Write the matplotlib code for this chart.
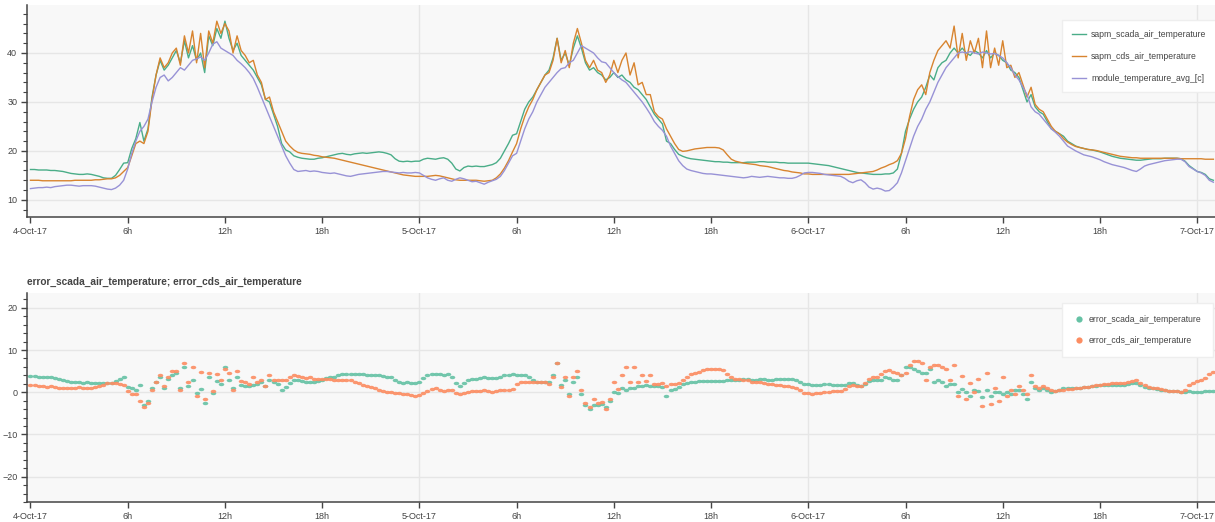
import matplotlib
matplotlib.use('agg')
import matplotlib.pyplot as plt
import matplotlib.dates as mdates
from matplotlib.ticker import MultipleLocator, FuncFormatter
from matplotlib.lines import Line2D
import numpy as np
import pandas as pd

plt.rcParams['font.family'] = ['Liberation Sans', 'DejaVu Sans']

# 15 minute samples starting 4-Oct-17 00:00, one row = 6 hours
module_temperature = [
    12.3, 12.4, 12.5, 12.5, 12.6, 12.5, 12.7, 12.8, 12.9, 13.0, 13.0, 12.9, 12.8, 12.9, 12.9, 12.9, 12.8, 12.6, 12.4, 12.2, 12.1, 12.4, 13.0, 14.0,
    16.3, 19.5, 22.0, 24.0, 25.0, 26.5, 30.0, 33.0, 35.0, 35.5, 34.3, 35.0, 36.0, 37.0, 36.5, 37.5, 38.5, 38.8, 39.2, 38.5, 40.0, 41.8, 42.3, 41.0,
    40.5, 40.0, 39.5, 38.5, 37.8, 37.0, 36.0, 34.8, 33.0, 31.0, 29.0, 27.0, 25.0, 23.0, 21.0, 19.0, 17.5, 16.2, 15.8, 15.9, 16.0, 15.8, 15.9, 15.8,
    15.6, 15.5, 15.4, 15.5, 15.3, 15.1, 14.9, 14.8, 15.0, 15.2, 15.3, 15.4, 15.5, 15.6, 15.7, 15.8, 15.8, 15.7, 15.6, 15.5, 15.6, 15.5, 15.5, 15.6,
    15.5, 15.0, 14.5, 14.2, 14.0, 14.3, 14.5, 14.0, 13.8, 14.2, 14.5, 14.3, 14.0, 13.7, 13.8, 13.5, 13.2, 13.6, 13.9, 14.2, 14.8, 16.0, 17.5, 19.0,
    19.5, 22.0, 24.5, 26.5, 28.0, 30.0, 31.5, 33.0, 34.0, 35.0, 36.0, 36.8, 37.0, 38.0, 38.5, 40.0, 41.5, 41.0, 40.5, 40.0, 39.0, 38.2, 38.0, 37.0,
    36.0, 35.2, 34.5, 34.0, 33.0, 32.0, 31.0, 30.0, 28.8, 27.5, 26.0, 25.0, 24.2, 23.0, 21.0, 19.5, 18.0, 17.0, 16.3, 16.0, 15.8, 15.6, 15.4, 15.3,
    15.3, 15.2, 15.1, 15.0, 14.9, 14.8, 14.7, 14.6, 14.5, 14.6, 14.8, 14.7, 14.6, 14.7, 14.8, 14.7, 14.6, 14.5, 14.5, 14.4, 14.4, 14.6, 15.0, 15.5,
    15.6, 15.6, 15.5, 15.4, 15.2, 15.1, 15.0, 14.9, 14.8, 14.4, 13.8, 13.5, 13.9, 14.1, 13.5, 12.6, 12.2, 12.4, 12.2, 11.8, 11.9, 12.6, 13.5, 15.5,
    18.0, 20.5, 23.0, 25.0, 26.5, 28.5, 30.0, 32.0, 34.0, 35.5, 37.0, 38.0, 39.0, 40.0, 40.2, 40.0, 40.3, 40.0, 39.8, 40.2, 40.0, 39.8, 39.9, 39.5,
    39.0, 38.0, 37.0, 35.5, 34.5, 33.0, 31.5, 29.0, 28.0, 27.5, 26.5, 25.5, 24.5, 23.8, 23.0, 22.0, 21.0, 20.5, 20.0, 19.6, 19.2, 19.0, 18.8, 18.5,
    18.2, 17.8, 17.5, 17.2, 17.0, 16.8, 16.6, 16.3, 16.0, 15.8, 16.3, 16.9, 17.2, 17.4, 17.6, 17.8, 18.0, 18.1, 18.2, 18.3, 18.3, 17.8, 16.8, 16.3,
    15.8, 15.5, 15.0, 14.0, 13.6,
]

scada_air_temperature = [
    16.2, 16.2, 16.1, 16.1, 16.1, 16.0, 16.0, 15.9, 15.8, 15.6, 15.4, 15.3, 15.2, 15.2, 15.3, 15.2, 15.0, 14.8, 14.5, 14.4, 14.4, 15.0, 16.2, 17.5,
    17.6, 20.5, 22.5, 25.8, 22.0, 24.5, 31.0, 35.5, 38.5, 36.5, 37.5, 39.0, 40.5, 38.0, 42.5, 39.0, 41.5, 38.5, 40.0, 36.0, 43.5, 41.5, 45.0, 43.0,
    46.5, 43.0, 40.5, 42.0, 39.5, 38.5, 37.5, 36.5, 35.0, 33.5, 30.5, 30.0, 27.5, 25.0, 21.5, 20.2, 19.8, 19.0, 18.7, 18.5, 18.4, 18.3, 18.3, 18.5,
    18.6, 18.8, 19.0, 19.2, 19.4, 19.5, 19.3, 19.2, 19.4, 19.5, 19.6, 19.5, 19.6, 19.7, 19.8, 19.7, 19.5, 19.2, 18.4, 17.9, 17.8, 17.9, 17.8, 17.9,
    17.9, 18.3, 18.5, 18.4, 18.3, 18.5, 18.6, 18.3, 17.5, 16.3, 15.9, 16.6, 16.9, 16.8, 16.9, 16.8, 16.8, 17.0, 17.2, 17.6, 18.5, 20.0, 21.5, 23.2,
    23.5, 26.0, 28.5, 30.0, 31.0, 32.5, 34.0, 35.5, 36.5, 39.0, 43.0, 38.5, 40.0, 37.5, 41.0, 43.5, 41.0, 38.0, 36.5, 37.0, 36.0, 35.5, 34.5, 35.0,
    36.0, 35.0, 35.5, 34.5, 34.0, 33.0, 32.5, 31.5, 30.5, 29.0, 27.5, 26.5, 25.5, 22.0, 21.5, 20.3, 19.3, 18.9, 18.6, 18.4, 18.3, 18.2, 18.1, 18.0,
    17.9, 17.8, 17.8, 17.7, 17.7, 17.6, 17.6, 17.6, 17.6, 17.7, 17.7, 17.7, 17.8, 17.8, 17.7, 17.7, 17.7, 17.6, 17.6, 17.5, 17.5, 17.5, 17.5, 17.5,
    17.5, 17.4, 17.3, 17.2, 17.1, 17.0, 16.8, 16.6, 16.4, 16.2, 16.0, 15.8, 15.6, 15.5, 15.4, 15.3, 15.2, 15.2, 15.2, 15.3, 15.3, 15.5, 16.3, 19.5,
    24.0, 26.5, 28.5, 30.0, 31.0, 33.0, 35.5, 34.5, 37.0, 38.0, 38.5, 40.0, 41.0, 40.0, 41.0, 40.0, 39.5, 40.5, 40.0, 39.0, 40.5, 39.0, 40.0, 39.5,
    38.5, 38.0, 36.5, 36.0, 35.0, 32.5, 30.0, 31.5, 29.0, 28.0, 27.5, 26.0, 24.5, 24.0, 23.5, 23.0, 22.0, 21.5, 21.0, 20.7, 20.5, 20.3, 20.2, 20.0,
    19.8, 19.5, 19.2, 18.9, 18.7, 18.5, 18.4, 18.3, 18.2, 18.1, 18.1, 18.2, 18.3, 18.4, 18.4, 18.4, 18.5, 18.5, 18.5, 18.5, 18.4, 17.9, 17.0, 16.4,
    15.8, 15.6, 15.2, 14.3, 14.0,
]

cds_air_temperature = [
    14.0, 14.0, 14.0, 13.9, 13.9, 13.9, 13.9, 13.9, 13.9, 13.9, 13.9, 14.0, 14.0, 14.0, 14.0, 14.0, 14.1, 14.1, 14.2, 14.3, 14.3, 14.5, 15.0, 15.8,
    16.6, 19.0, 21.5, 22.0, 21.5, 24.0, 30.5, 35.5, 39.0, 37.0, 38.0, 40.0, 41.0, 37.5, 43.5, 40.0, 44.5, 38.0, 44.0, 37.0, 44.5, 42.0, 46.5, 44.0,
    46.0, 44.5, 40.0, 43.5, 40.5, 39.5, 38.0, 38.5, 35.5, 34.0, 30.5, 31.0, 28.0, 26.0, 24.0, 22.0, 21.0, 20.2, 19.7, 19.5, 19.4, 19.3, 19.1, 19.0,
    18.8, 18.7, 18.6, 18.5, 18.3, 18.1, 17.9, 17.7, 17.5, 17.3, 17.1, 16.9, 16.7, 16.5, 16.3, 16.1, 15.9, 15.7, 15.5, 15.3, 15.1, 15.0, 14.9, 14.8,
    14.8, 14.8, 14.8, 14.9, 15.0, 14.9, 14.7, 14.5, 14.3, 14.1, 14.0, 14.0, 14.0, 14.0, 14.0, 13.9, 13.8, 13.9, 14.0, 14.5, 15.3, 16.5, 18.0, 19.8,
    21.5, 24.5, 27.0, 29.0, 30.5, 32.5, 34.0, 35.5, 36.0, 38.5, 43.0, 38.0, 40.5, 37.0, 42.0, 45.0, 42.0, 38.5, 37.0, 38.5, 36.5, 36.0, 34.0, 35.5,
    38.5, 36.0, 38.5, 40.0, 35.5, 38.0, 33.5, 34.0, 31.5, 31.5, 28.0, 27.0, 26.5, 24.5, 23.0, 21.5, 20.3, 19.9, 20.0, 20.2, 20.4, 20.5, 20.6, 20.7,
    20.7, 20.7, 20.6, 20.2, 19.2, 18.3, 17.9, 17.7, 17.5, 17.4, 17.3, 17.2, 17.0, 16.9, 16.8, 16.6, 16.4, 16.2, 16.0, 15.9, 15.7, 15.6, 15.5, 15.3,
    15.3, 15.2, 15.2, 15.2, 15.2, 15.2, 15.2, 15.2, 15.2, 15.2, 15.2, 15.3, 15.4, 15.5, 15.6, 15.7, 15.8, 16.1, 16.5, 16.8, 17.2, 17.5, 18.0, 19.5,
    22.5, 27.0, 30.5, 32.5, 33.5, 31.5, 36.0, 38.5, 40.5, 41.5, 42.5, 41.0, 45.5, 39.0, 44.0, 38.5, 42.5, 40.0, 43.0, 37.0, 44.5, 37.0, 41.0, 37.5,
    42.5, 37.0, 37.5, 35.0, 36.0, 33.5, 31.0, 33.0, 29.5, 28.5, 28.0, 26.5, 25.0, 24.0, 23.5, 22.5, 21.8, 21.3, 20.9, 20.7, 20.5, 20.3, 20.2, 20.1,
    19.9, 19.7, 19.5, 19.3, 19.1, 18.9, 18.8, 18.7, 18.6, 18.6, 18.5, 18.5, 18.5, 18.5, 18.5, 18.5, 18.5, 18.5, 18.5, 18.5, 18.4, 18.4, 18.4, 18.4,
    18.4, 18.4, 18.3, 18.3, 18.3,
]

times = pd.date_range('2017-10-04 00:00', periods=len(module_temperature), freq='15min')

module = np.array(module_temperature)
scada = np.array(scada_air_temperature)
cds = np.array(cds_air_temperature)
error_scada = scada - module
error_cds = cds - module

top_colors = ['#4aad88', '#d8842f', '#9892d6']
err_colors = ['#66c2a5', '#fc8d62']
axis_color = '#444444'
label_color = '#444444'

# flattened dot so neighbouring night-time samples read as a band
theta = np.linspace(0, 2 * np.pi, 25)
flat_dot = list(zip(np.cos(theta), 0.62 * np.sin(theta)))


def fmt_time(x, pos):
    d = mdates.num2date(x)
    if d.hour == 0:
        return '%d-%s-%s' % (d.day, d.strftime('%b'), d.strftime('%y'))
    return '%dh' % d.hour


def style_axis(ax, ylim, ymajor):
    ax.set_facecolor('#f8f8f8')
    ax.set_xlim(times[0] - pd.Timedelta(minutes=13), times[0] + pd.Timedelta(hours=73.1))
    ax.set_ylim(*ylim)
    ax.xaxis.set_major_locator(mdates.HourLocator(byhour=[0, 6, 12, 18]))
    ax.xaxis.set_major_formatter(FuncFormatter(fmt_time))
    ax.yaxis.set_major_locator(MultipleLocator(ymajor))
    ax.yaxis.set_minor_locator(MultipleLocator(2))
    for side in ['top', 'right']:
        ax.spines[side].set_visible(False)
    for side in ['left', 'bottom']:
        ax.spines[side].set_color(axis_color)
        ax.spines[side].set_linewidth(1.1)
    ax.tick_params(axis='both', which='major', length=4.5, width=1, color=axis_color,
                   labelsize=6.5, labelcolor=label_color, pad=2.5)
    ax.tick_params(axis='y', which='minor', length=3, width=0.8, color=axis_color)
    ax.grid(axis='y', which='major', color='#e6e6e6', linewidth=1)
    # vertical grid only at midnight
    for day in pd.date_range('2017-10-05', '2017-10-07', freq='D'):
        ax.axvline(day, color='#e6e6e6', linewidth=1, zorder=0)
    ax.set_axisbelow(True)


fig = plt.figure(figsize=(12.15, 5.22), dpi=100)
ax1 = fig.add_axes([0.0222, 0.5843, 0.9778, 0.4061])
ax2 = fig.add_axes([0.0222, 0.0383, 0.9778, 0.4004])

style_axis(ax1, (6.5, 49.8), 10)
ax1.plot(times, scada, color=top_colors[0], linewidth=1.0, label='sapm_scada_air_temperature')
ax1.plot(times, cds, color=top_colors[1], linewidth=1.0, label='sapm_cds_air_temperature')
ax1.plot(times, module, color=top_colors[2], linewidth=1.0, label='module_temperature_avg_[c]')
leg1 = ax1.legend(loc='upper left', bbox_to_anchor=(0.871, 0.93), fontsize=6.2,
                  handlelength=1.7, labelspacing=1.5, borderpad=1.15, handletextpad=0.55,
                  borderaxespad=0, fancybox=False, framealpha=1, edgecolor='#eeeeee')
for t in leg1.get_texts():
    t.set_color(label_color)

style_axis(ax2, (-26, 23.5), 10)
ax2.scatter(times, error_scada, s=16, marker=flat_dot, color=err_colors[0], alpha=0.9, linewidths=0)
ax2.scatter(times, error_cds, s=16, marker=flat_dot, color=err_colors[1], alpha=0.9, linewidths=0)
handles = [Line2D([], [], linestyle='none', marker='o', markersize=4.5, color=c, markeredgewidth=0)
           for c in err_colors]
leg2 = ax2.legend(handles, ['error_scada_air_temperature', 'error_cds_air_temperature'],
                  loc='upper left', bbox_to_anchor=(0.871, 0.95), fontsize=6.2,
                  handlelength=1.2, labelspacing=1.4, borderpad=1.35, handletextpad=0.6,
                  borderaxespad=0, fancybox=False, framealpha=1, edgecolor='#eeeeee')
for t in leg2.get_texts():
    t.set_color(label_color)
ax2.set_title('error_scada_air_temperature; error_cds_air_temperature', loc='left',
              fontsize=7.3, fontweight='bold', color=label_color, pad=6)

plt.savefig('out.png', format='png', transparent=False)
plt.close()
